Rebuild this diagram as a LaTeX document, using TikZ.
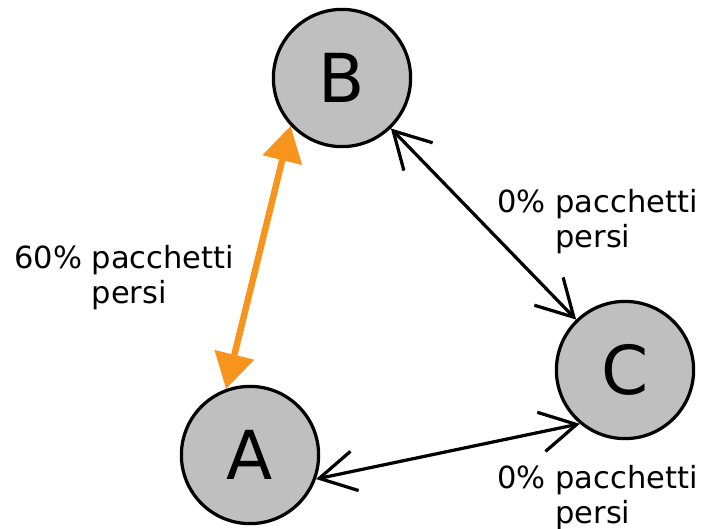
\documentclass[tikz,border=0pt]{standalone}
\usepackage{fontspec}
\setmainfont{DejaVu Sans}
\usetikzlibrary{arrows.meta}
\definecolor{hostgray}{RGB}{191,191,191}
\definecolor{lossorange}{RGB}{247,148,29}

\begin{document}
\begin{tikzpicture}[x=0.025cm, y=-0.025cm, host/.style={circle,draw,line width=2.3pt,fill=hostgray,minimum size=3.43cm,inner sep=0pt,font=\fontsize{48}{50}\selectfont}, lossnote/.style={anchor=north west,inner sep=0pt,align=left,font=\fontsize{21.7}{25}\selectfont}, okline/.style={line width=2.3pt,{Straight Barb[length=0.9cm,width=1cm]}-{Straight Barb[length=0.9cm,width=1cm]}}]
\useasboundingbox (0,0) rectangle (703,528);
\node[host] (B) at (342,78) {B};
\node[host] (A) at (250,455) {A};
\node[host] (C) at (625,370) {C};
\node[lossnote] (ab) at (14,245) {60\% pacchetti\\\phantom{60\% }persi};
\node[lossnote] (bc) at (497,189) {0\% pacchetti\\\phantom{0\% }persi};
\node[lossnote] (ac) at (497,465) {0\% pacchetti\\\phantom{0\% }persi};
\draw[line width=4.6pt, lossorange, {Triangle[length=0.88cm,width=0.98cm]}-{Triangle[length=0.88cm,width=0.98cm]}] (A.110) -- (B.-137);
\draw[okline] (B) -- (C);
\draw[okline] (A.-20) -- (C.-130);
\end{tikzpicture}
\end{document}
